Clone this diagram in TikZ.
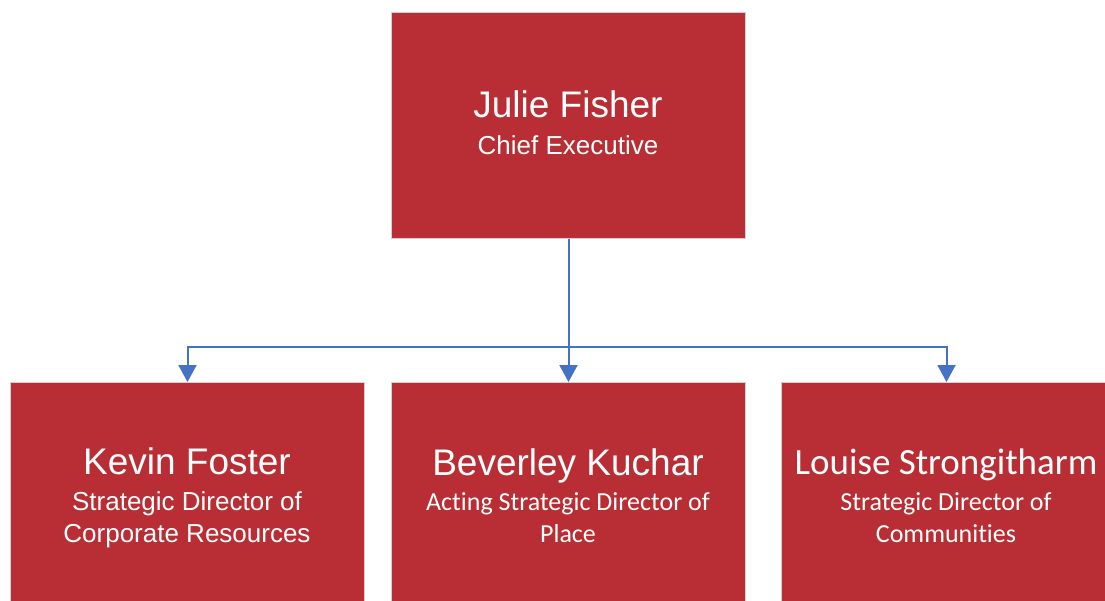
\documentclass[tikz,border=0pt]{standalone}
\usepackage{fontspec}
\setmainfont{Liberation Sans}
\newfontfamily\calibrifont[Ligatures={NoCommon}]{Carlito}
\usetikzlibrary{arrows.meta}
\definecolor{boxred}{RGB}{184,46,52}
\definecolor{linkblue}{RGB}{68,114,196}
\begin{document}
\begin{tikzpicture}[x=1pt,y=-1pt,
  orgbox/.style={draw=black!18, line width=1pt, fill=boxred, minimum height=226pt, inner sep=0pt, anchor=north west},
  namearial/.style={text=white, anchor=base, inner sep=0pt, font=\fontsize{37}{40}\selectfont},
  rolearial/.style={text=white, anchor=base, inner sep=0pt, font=\fontsize{26}{30}\selectfont},
  namecal/.style={text=white, anchor=base, inner sep=0pt, font=\calibrifont\fontsize{37}{40}\selectfont},
  rolecal/.style={text=white, anchor=base, inner sep=0pt, font=\calibrifont\fontsize{26}{30}\selectfont},
  link/.style={draw=linkblue, line width=2pt},
  linkarrow/.style={link, -{Triangle[length=17pt,width=18pt]}}]
\useasboundingbox (0,0) rectangle (1105,601);
\clip (0,0) rectangle (1105,601);
\fill[white] (0,0) rectangle (1105,601);
% boxes
\node[orgbox, minimum width=354pt] (ceo) at (391,12) {};
\node[orgbox, minimum width=354pt] (left) at (10,382) {};
\node[orgbox, minimum width=354pt] (mid) at (391,382) {};
\node[orgbox, minimum width=330pt] (right) at (781,382) {};
% connectors
\coordinate (hub) at (ceo.south |- 0,347);
\draw[linkarrow] (ceo.south) -- (mid.north);
\draw[linkarrow] (hub) -| (left.north);
\draw[linkarrow] (hub) -| (right.north);
% texts
\node[namearial] (ceoname) at (568,118) {Julie Fisher};
\node[rolearial] (ceorole) at (568,155) {Chief Executive};
\node[namearial] (leftname) at (187,474) {Kevin Foster};
\node[rolearial] (leftrole1) at (187,510) {Strategic Director of};
\node[rolearial] (leftrole2) at (187,542) {Corporate Resources};
\node[namearial] (midname) at (568,475) {Beverley Kuchar};
\node[rolecal] (midrole1) at (568,510) {Acting Strategic Director of};
\node[rolecal] (midrole2) at (568,542) {Place};
\node[namecal] (rightname) at (946,474) {Louise Strongitharm};
\node[rolecal] (rightrole1) at (946,510) {Strategic Director of};
\node[rolecal] (rightrole2) at (946,542) {Communities};
\end{tikzpicture}
\end{document}
